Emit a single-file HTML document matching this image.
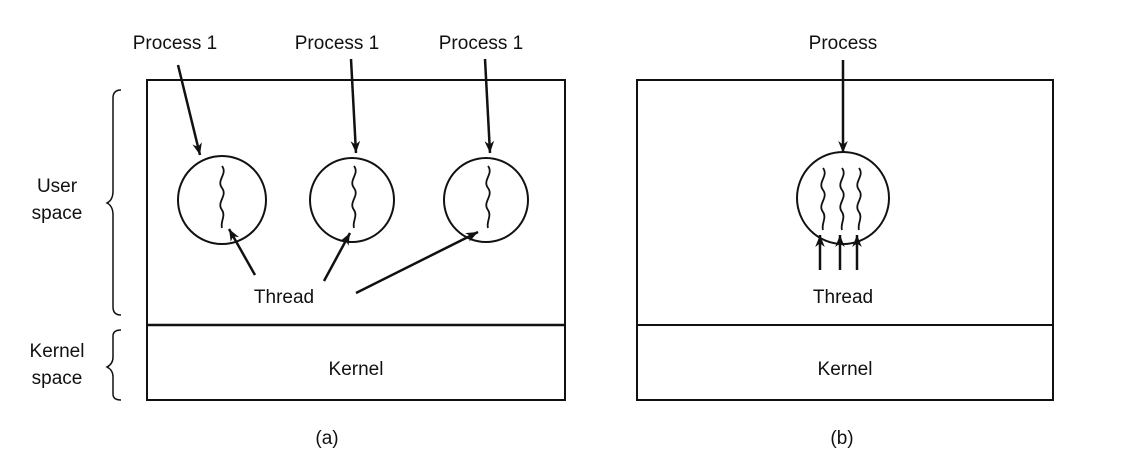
<!DOCTYPE html>
<html><head><meta charset="utf-8"><style>
html,body{margin:0;padding:0;background:#fff;}
svg{display:block;}
text{font-family:"Liberation Sans",sans-serif;font-size:19px;fill:#111;}
</style></head><body>
<svg width="1124" height="476" viewBox="0 0 1124 476" xmlns="http://www.w3.org/2000/svg">
<defs>
<marker id="ah" viewBox="0 0 10 10" refX="10" refY="5" markerWidth="7" markerHeight="7" markerUnits="userSpaceOnUse" orient="auto">
<path d="M0,0 L10,5 L0,10 L3,5 z" fill="#111"/></marker>
<marker id="ah2" viewBox="0 0 10 10" refX="10" refY="5" markerWidth="12" markerHeight="12" markerUnits="userSpaceOnUse" orient="auto">
<path d="M0,1 L10,5 L0,9 L3,5 z" fill="#111"/></marker>
</defs>
<g fill="none" stroke="#111" stroke-width="2">
<rect x="147" y="80" width="418" height="320"/>
<line x1="147" y1="325" x2="565" y2="325" stroke-width="2.5"/>
<rect x="637" y="80" width="416" height="320"/>
<line x1="637" y1="325" x2="1053" y2="325"/>
<circle cx="222" cy="200" r="44"/>
<circle cx="352" cy="200" r="42"/>
<circle cx="486" cy="200" r="42"/>
<circle cx="843" cy="198" r="46"/>
<!-- squiggles -->
<g stroke-width="1.8">
<path d="M222,166 c6,8 -6,14 0,22 c6,8 -6,14 0,22 c4,6 -2,12 0,18"/>
<path d="M354,166 c6,8 -6,14 0,22 c6,8 -6,14 0,22 c4,6 -2,12 0,18"/>
<path d="M488,166 c6,8 -6,14 0,22 c6,8 -6,14 0,22 c4,6 -2,12 0,18"/>
<path d="M823,168 c6,8 -6,14 0,22 c6,8 -6,14 0,22 c4,6 -2,12 0,18"/>
<path d="M842,168 c6,8 -6,14 0,22 c6,8 -6,14 0,22 c4,6 -2,12 0,18"/>
<path d="M859,168 c6,8 -6,14 0,22 c6,8 -6,14 0,22 c4,6 -2,12 0,18"/>
</g>
<!-- braces -->
<path d="M121,90 q-8,0 -8,8 v93 q0,9 -6,12 q6,3 6,12 v92 q0,8 8,8" stroke-width="1.5"/>
<path d="M121,330 q-8,0 -8,6 v21 q0,7 -6,10 q6,3 6,10 v17 q0,6 8,6" stroke-width="1.5"/>
<!-- arrows -->
<g stroke-width="2.5">
<line x1="178" y1="65" x2="200" y2="155" marker-end="url(#ah2)"/>
<line x1="351" y1="59" x2="356" y2="153" marker-end="url(#ah2)"/>
<line x1="485" y1="59" x2="490" y2="153" marker-end="url(#ah2)"/>
<line x1="255" y1="275" x2="229" y2="229" marker-end="url(#ah2)"/>
<line x1="324" y1="281" x2="350" y2="233" marker-end="url(#ah2)"/>
<line x1="356" y1="293" x2="478" y2="232" marker-end="url(#ah2)"/>
<line x1="843" y1="60" x2="843" y2="153" marker-end="url(#ah2)"/>
<line x1="820" y1="270" x2="820" y2="235" marker-end="url(#ah2)"/>
<line x1="840" y1="270" x2="840" y2="235" marker-end="url(#ah2)"/>
<line x1="857" y1="270" x2="857" y2="235" marker-end="url(#ah2)"/>
</g>
</g>
<g text-anchor="middle">
<text x="175" y="49">Process 1</text>
<text x="337" y="49">Process 1</text>
<text x="481" y="49">Process 1</text>
<text x="843" y="49">Process</text>
<text x="57" y="192">User</text>
<text x="57" y="219">space</text>
<text x="57" y="357">Kernel</text>
<text x="57" y="384">space</text>
<text x="284" y="303">Thread</text>
<text x="843" y="303">Thread</text>
<text x="356" y="375">Kernel</text>
<text x="845" y="375">Kernel</text>
<text x="327" y="444">(a)</text>
<text x="842" y="444">(b)</text>
</g>
</svg>
</body></html>
